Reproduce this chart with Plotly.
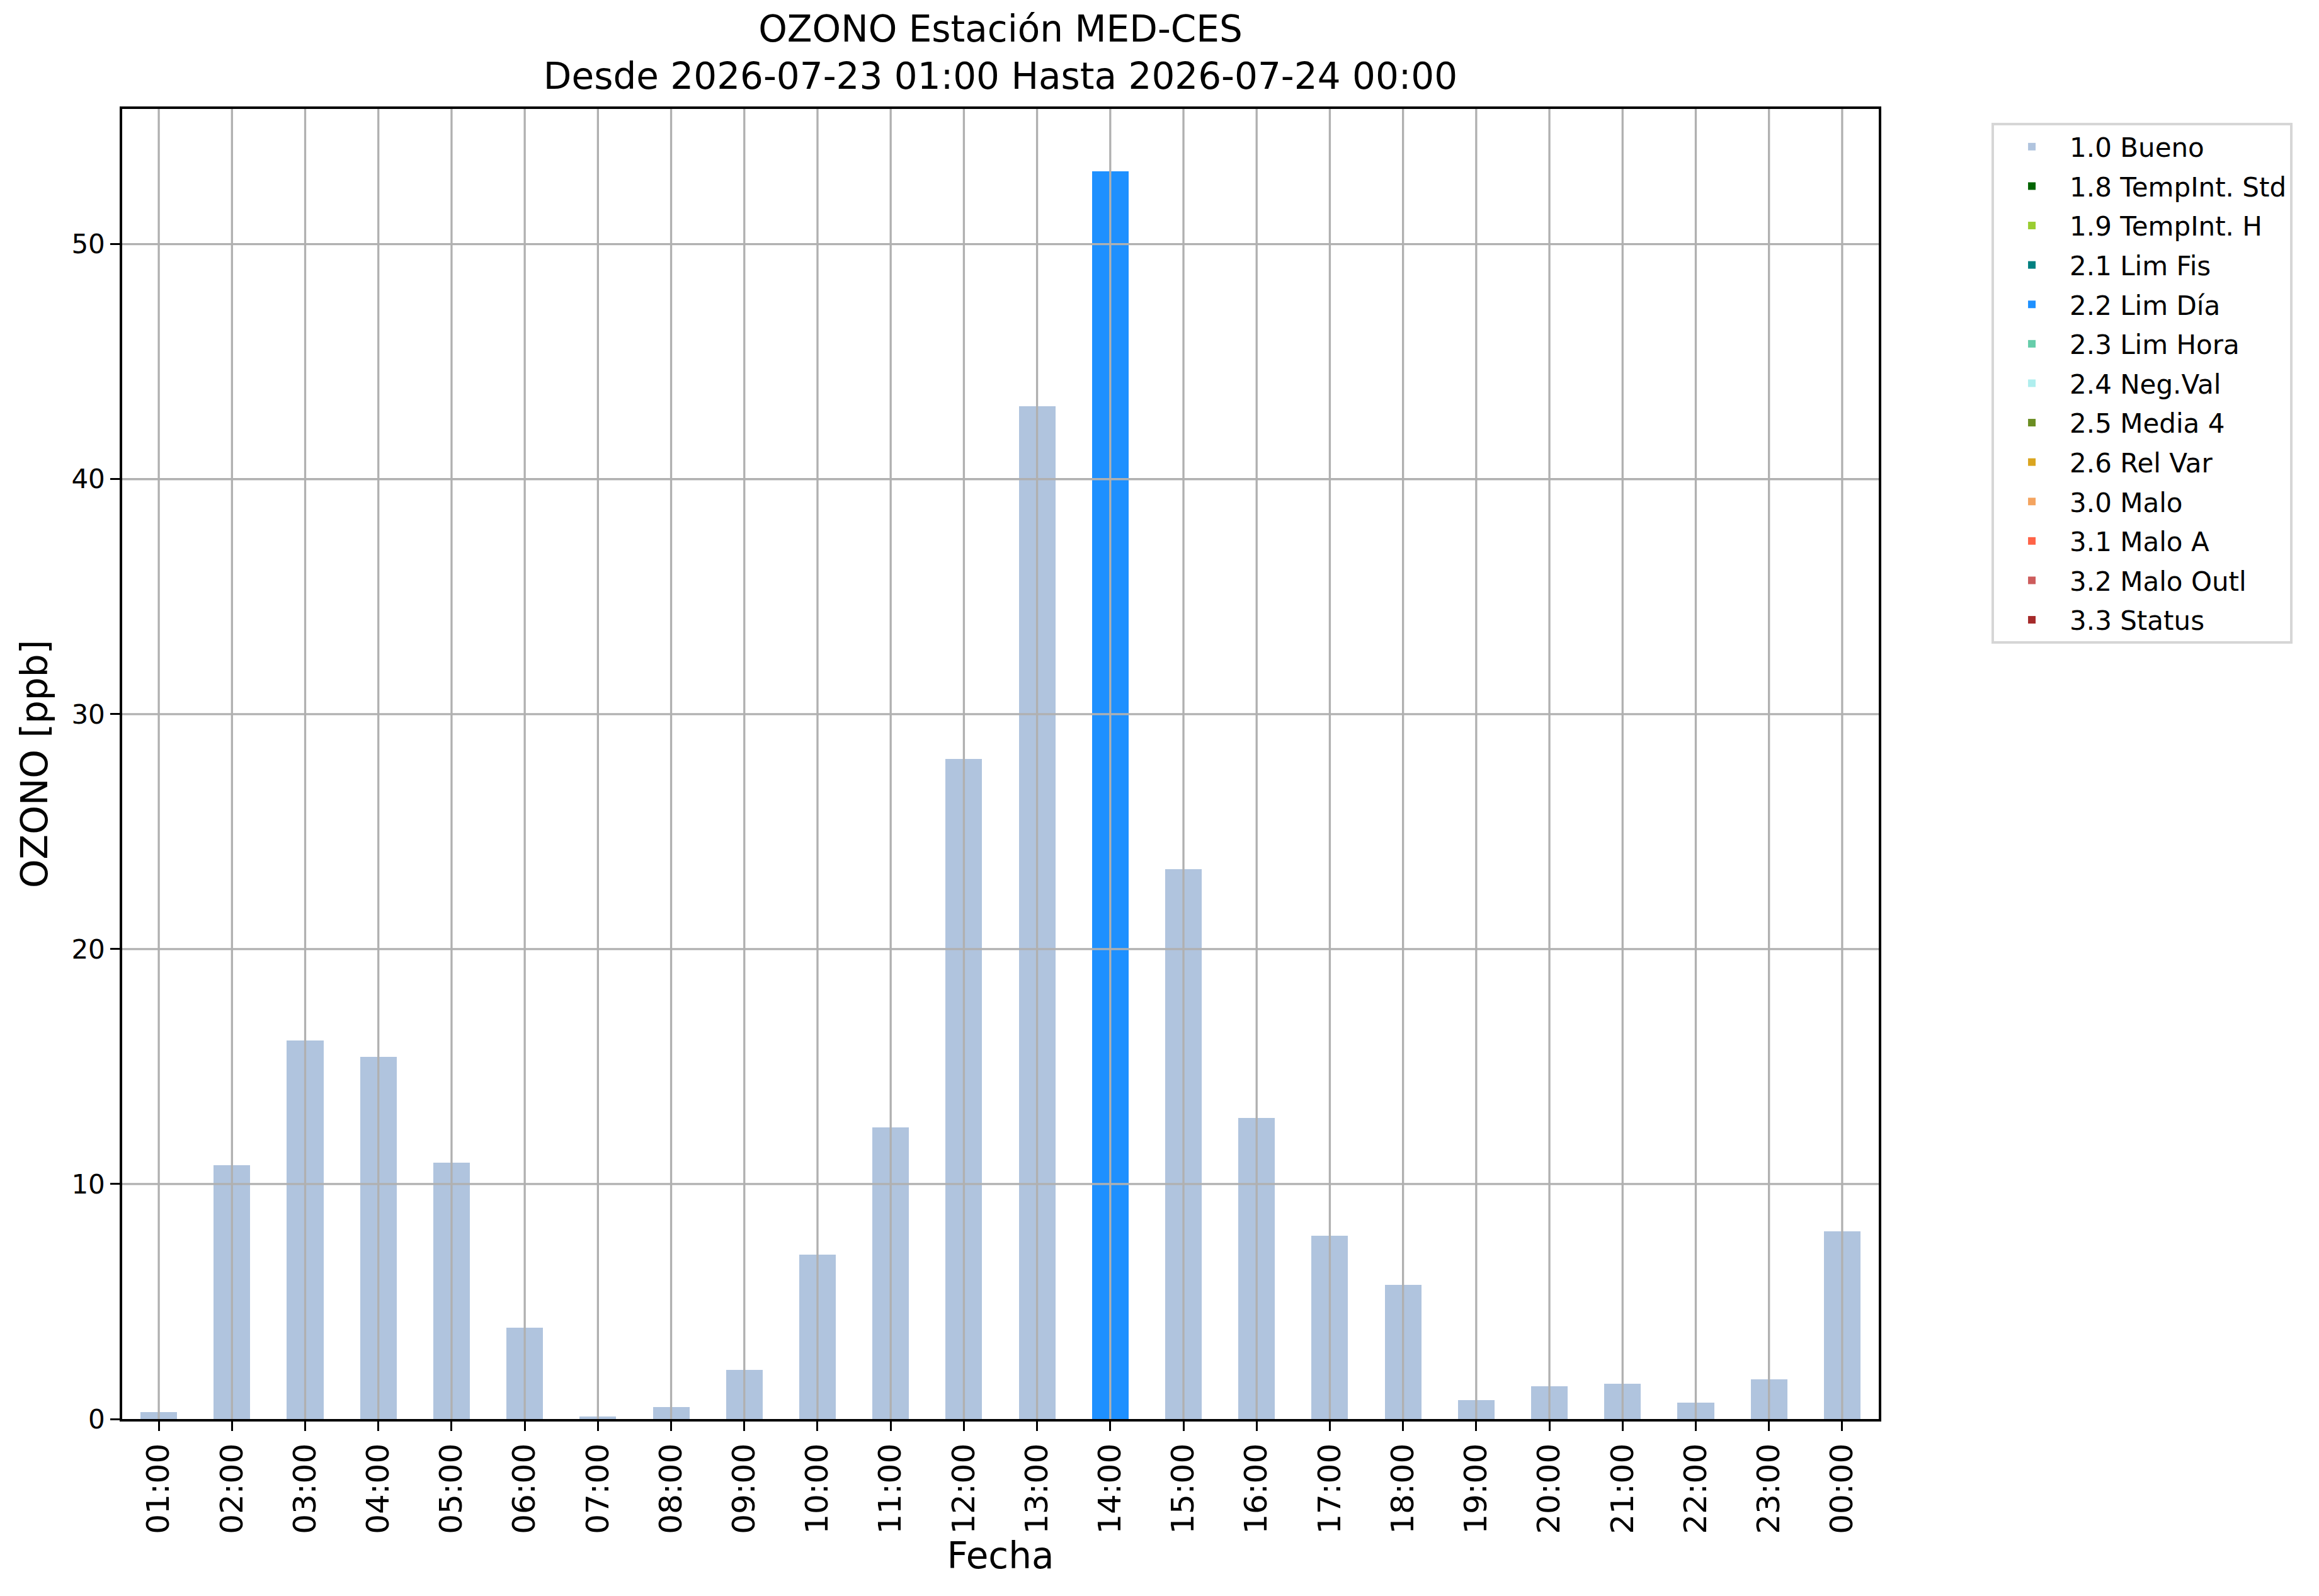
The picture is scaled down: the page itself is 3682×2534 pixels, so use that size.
import plotly.graph_objects as go

hours = ["01:00", "02:00", "03:00", "04:00", "05:00", "06:00", "07:00", "08:00",
         "09:00", "10:00", "11:00", "12:00", "13:00", "14:00", "15:00", "16:00",
         "17:00", "18:00", "19:00", "20:00", "21:00", "22:00", "23:00", "00:00"]
ozono = [0.3, 10.8, 16.1, 15.4, 10.9, 3.9, 0.1, 0.5, 2.1, 7.0, 12.4, 28.1,
         43.1, 53.1, 23.4, 12.8, 7.8, 5.7, 0.8, 1.4, 1.5, 0.7, 1.7, 8.0]
flags = ["1.0 Bueno"] * 13 + ["2.2 Lim Día"] + ["1.0 Bueno"] * 10

categories = ["1.0 Bueno", "1.8 TempInt. Std", "1.9 TempInt. H", "2.1 Lim Fis",
              "2.2 Lim Día", "2.3 Lim Hora", "2.4 Neg.Val", "2.5 Media 4",
              "2.6 Rel Var", "3.0 Malo", "3.1 Malo A", "3.2 Malo Outl", "3.3 Status"]
colors = ["#B0C4DE", "#006400", "#9ACD32", "#008080", "#1E90FF", "#66CDAA",
          "#AFEEEE", "#6B8E23", "#DAA520", "#F4A460", "#FF6347", "#CD5C5C",
          "#A52A2A"]
y_ticks = [0, 10, 20, 30, 40, 50]

W, H = 3682, 2534
FONT = "DejaVu Sans"
GRID = "#b0b0b0"

fig = go.Figure()
x_idx = list(range(len(hours)))
for cat, col in zip(categories, colors):
    vals = [v if f == cat else 0 for v, f in zip(ozono, flags)]
    fig.add_trace(go.Bar(x=x_idx, y=vals, name=cat, legendgroup=cat,
                         marker=dict(color=col, line=dict(width=0))))

# grid on top of the bars, like the original
for i in x_idx:
    fig.add_shape(type="line", x0=i, x1=i, y0=0, y1=1, xref="x", yref="y domain",
                  line=dict(color=GRID, width=3.3), layer="above")
for v in y_ticks[1:]:
    fig.add_shape(type="line", x0=0, x1=1, y0=v, y1=v, xref="x domain", yref="y",
                  line=dict(color=GRID, width=3.3), layer="above")

ymax = max(ozono) * 1.05

fig.update_layout(
    width=W, height=H,
    barmode="stack", bargap=0.5,
    paper_bgcolor="white", plot_bgcolor="white",
    font=dict(family=FONT, color="black"),
    margin=dict(l=186, r=W - 2975, t=165, b=H - 2245),
    title=dict(text="OZONO Estación MED-CES<br>Desde 2026-07-23 01:00 Hasta 2026-07-24 00:00",
               font=dict(size=58), x=0.5, xref="paper", xanchor="center",
               y=1 - 58 / H, yref="container", yanchor="middle"),
    xaxis=dict(range=[-0.5, len(hours) - 0.5], tickvals=x_idx, ticktext=hours,
               tickangle=-90, tickfont=dict(size=50), ticks="outside", ticklen=15,
               tickwidth=3.3, tickcolor="black", showgrid=False, zeroline=False,
               showline=True, linecolor="black", linewidth=3.5, mirror=True,
               title=dict(text="Fecha", font=dict(size=58), standoff=8),
               layer="above traces"),
    yaxis=dict(range=[0, ymax], tickvals=y_ticks, tickfont=dict(size=42),
               ticks="outside", ticklen=15, tickwidth=3.3, tickcolor="black",
               showgrid=False, zeroline=False, showline=True, linecolor="black",
               linewidth=3.5, mirror=True,
               title=dict(text="OZONO [ppb]", font=dict(size=58), standoff=20),
               layer="above traces"),
    legend=dict(x=1.0642, y=0.9894, xanchor="left", yanchor="top",
                font=dict(size=42), bordercolor="#d6d6d6", borderwidth=4,
                bgcolor="white", tracegroupgap=5, itemwidth=110,
                traceorder="grouped"),
)

fig.write_html("out.html")
